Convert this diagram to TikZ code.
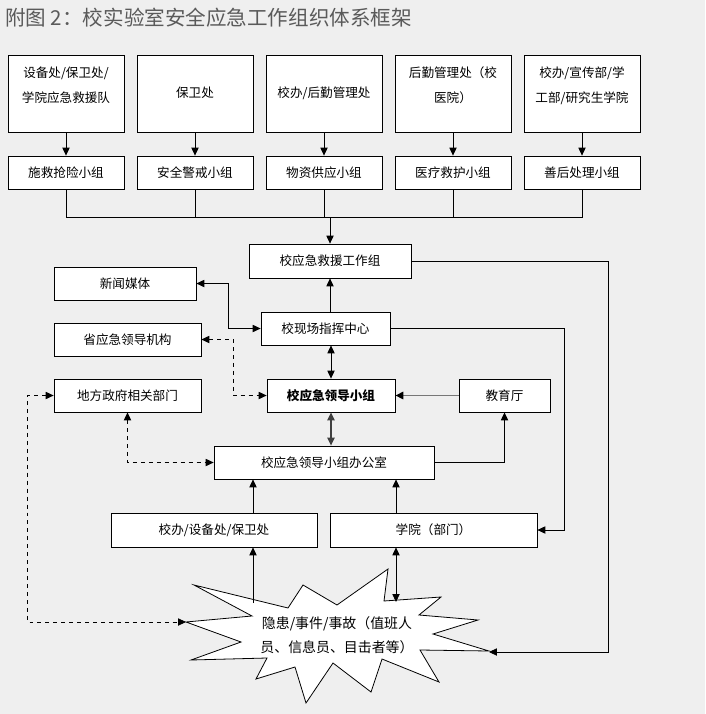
\documentclass[tikz,border=0pt]{standalone}
\usepackage{fontspec}
\setmainfont{Noto Sans CJK SC}
\usetikzlibrary{arrows.meta,positioning,calc}
\definecolor{bggray}{HTML}{EFEFEF}
\definecolor{titlegray}{HTML}{5A5A5A}
\definecolor{linkgray}{HTML}{777777}

\begin{document}
\begin{tikzpicture}[x=0.0265cm,y=-0.0265cm,
  box/.style={draw,fill=white,line width=0.6pt,inner sep=0pt,align=center,font=\fontsize{9.5pt}{18.8pt}\selectfont},
  tallbox/.style={box,minimum width=3.074cm,minimum height=2.041cm},
  teambox/.style={box,minimum width=3.074cm,minimum height=0.875cm},
  arr/.style={line width=0.6pt,-{Triangle[length=6pt,width=5.5pt]}},
  darr/.style={line width=0.6pt,{Triangle[length=6pt,width=5.5pt]}-{Triangle[length=6pt,width=5.5pt]}},
  link/.style={line width=0.6pt}]
  \fill[bggray] (0,0) rectangle (705,714);
  \node[anchor=west,text=titlegray,inner sep=0pt,font=\fontsize{15.5pt}{18pt}\selectfont] (title) at (5,18) {附图 2：校实验室安全应急工作组织体系框架};

  % departments and their teams
  \node[tallbox] (dept1) at (66,93.5) {设备处/保卫处/\\学院应急救援队\\[-5.3pt]\mbox{}};
  \node[tallbox] (dept2) at (195,93.5) {\mbox{}\\保卫处\\[-5.3pt]\mbox{}};
  \node[tallbox] (dept3) at (324,93.5) {\mbox{}\\校办/后勤管理处\\[-5.3pt]\mbox{}};
  \node[tallbox] (dept4) at (453,93.5) {后勤管理处（校\\医院）\\[-5.3pt]\mbox{}};
  \node[tallbox] (dept5) at (582,93.5) {校办/宣传部/学\\工部/研究生学院\\[-5.3pt]\mbox{}};
  \node[teambox] (team1) at (66,172.5) {施救抢险小组};
  \node[teambox] (team2) at (195,172.5) {安全警戒小组};
  \node[teambox] (team3) at (324,172.5) {物资供应小组};
  \node[teambox] (team4) at (453,172.5) {医疗救护小组};
  \node[teambox] (team5) at (582,172.5) {善后处理小组};
  \draw[arr] (dept1) -- (team1);
  \draw[arr] (dept2) -- (team2);
  \draw[arr] (dept3) -- (team3);
  \draw[arr] (dept4) -- (team4);
  \draw[arr] (dept5) -- (team5);

  % command structure
  \node[box,minimum width=4.293cm,minimum height=0.901cm] (rescue) at (330,261) {校应急救援工作组};
  \node[box,minimum width=3.763cm,minimum height=0.875cm] (media) at (125,283.5) {新闻媒体};
  \node[box,minimum width=3.419cm,minimum height=0.875cm] (command) at (325.5,328.5) {校现场指挥中心};
  \node[box,minimum width=3.896cm,minimum height=0.875cm] (province) at (127.5,339.5) {省应急领导机构};
  \node[box,minimum width=3.896cm,minimum height=0.875cm] (govt) at (127.5,395.5) {地方政府相关部门};
  \node[box,minimum width=3.392cm,minimum height=0.875cm,font=\fontsize{9.5pt}{18.8pt}\selectfont\bfseries] (leader) at (331,395.5) {校应急领导小组};
  \node[box,minimum width=2.412cm,minimum height=0.875cm] (edu) at (504.5,395.5) {教育厅};
  \node[box,minimum width=5.83cm,minimum height=0.875cm] (office) at (324,462.5) {校应急领导小组办公室};
  \node[box,minimum width=5.459cm,minimum height=0.901cm] (admin) at (214,530) {校办/设备处/保卫处};
  \node[box,minimum width=5.486cm,minimum height=0.901cm] (college) at (433.5,530) {学院（部门）};

  % incident star
  \draw[fill=white,line width=0.6pt] (194,585) -- (288,608) -- (303,585) -- (337,605) -- (388,569) -- (384,601)
    -- (441,597) -- (419,615) -- (478,620) -- (433,634) -- (489,651) -- (420,650) -- (439,682) -- (382,659)
    -- (371,692) -- (333,663) -- (306,703) -- (295,667) -- (256,679) -- (267,658) -- (191,660) -- (241,642)
    -- (186,622) -- (252,616) -- cycle;
  \node[align=center,inner sep=0pt,font=\fontsize{10.5pt}{18pt}\selectfont] (incident) at (337,635) {隐患/事件/事故（值班人\\员、信息员、目击者等）};
  \coordinate (starL) at (186,622);
  \coordinate (starR) at (489,652);
  \coordinate (starA) at (253,603);
  \coordinate (starB) at (396,602);

  % connectors
  \coordinate (hub) at (330,217);
  \draw[link] (team1.south) |- (hub);
  \draw[link] (team2.south) |- (hub);
  \draw[link] (team3.south) |- (hub);
  \draw[link] (team4.south) |- (hub);
  \draw[link] (team5.south) |- (hub);
  \draw[arr] (hub) -- (rescue);
  \draw[arr] (command.north -| rescue.south) -- (rescue.south);
  \draw[darr] (media.east) -- ++(32,0) |- (command.west);
  \draw[darr,dashed] (province.east) -- ++(32,0) |- (leader.west);
  \draw[darr] (command.south -| leader.north) -- (leader.north);
  \draw[draw=linkgray,line width=1.5pt,-{Triangle[length=6pt,width=5.5pt,color=black]}] (edu) -- (leader);
  \draw[darr,draw=black!75,line width=0.9pt] (leader.south) -- (leader.south |- office.north);
  \draw[arr] (office.east) -| (edu.south);
  \draw[darr,dashed] (govt.south) |- (office.west);
  \draw[darr,dashed] (govt.west) -- ++(-26,0) |- (starL);
  \draw[arr] (rescue.east) -- ++(197,0) |- (starR);
  \draw[arr] (command.east) -- ++(174,0) |- (college.east);
  \draw[arr] ($(admin.north)+(39,0)$) coordinate (adminT) -- (adminT |- office.south);
  \draw[arr] ($(college.north)+(-37.5,0)$) coordinate (collegeT) -- (collegeT |- office.south);
  \draw[arr] (starA) -- (starA |- admin.south);
  \draw[darr] (starB |- college.south) -- (starB);
\end{tikzpicture}
\end{document}
